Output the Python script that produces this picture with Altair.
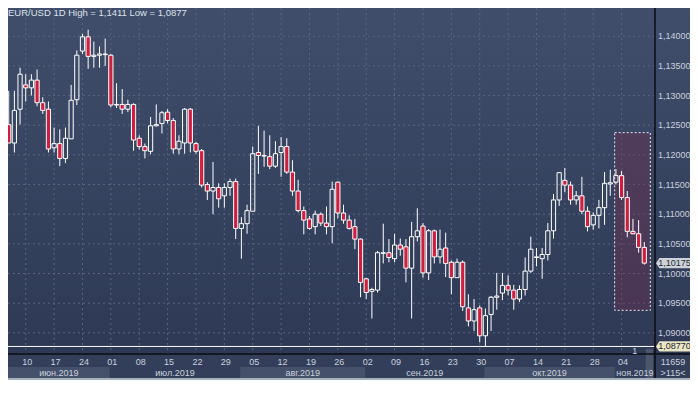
import altair as alt
import numpy as np
import pandas as pd

# ---------------- data ----------------
trade_days = pd.bdate_range("2019-06-04", "2019-11-08")

open_ = [1.1241, 1.1251, 1.1220, 1.1277, 1.1318, 1.1313, 1.1326, 1.1288, 1.1277, 1.1212,
         1.1219, 1.1194, 1.1227, 1.1293, 1.1375, 1.1399, 1.1366, 1.1368, 1.1369, 1.1368,
         1.1284, 1.1285, 1.1277, 1.1285, 1.1228, 1.1214, 1.1206, 1.1249, 1.1253, 1.1272,
         1.1258, 1.1210, 1.1220, 1.1277, 1.1219, 1.1207, 1.1150, 1.1139, 1.1145, 1.1131,
         1.1145, 1.1155, 1.1076, 1.1084, 1.1105, 1.1204, 1.1198, 1.1197, 1.1181, 1.1204,
         1.1214, 1.1171, 1.1139, 1.1106, 1.1092, 1.1079, 1.1100, 1.1085, 1.1079, 1.1154,
         1.1102, 1.1090, 1.1079, 1.1058, 1.0991, 1.0970, 1.0972, 1.1034, 1.1035, 1.1025,
         1.1048, 1.1045, 1.1009, 1.1062, 1.1080, 1.1001, 1.1072, 1.1028, 1.1043, 1.1019,
         1.0993, 1.1019, 1.0942, 1.0920, 1.0942, 1.0895, 1.0931, 1.0960, 1.0967, 1.0980,
         1.0972, 1.0957, 1.0973, 1.1004, 1.1027, 1.1025, 1.1032, 1.1072, 1.1124, 1.1157,
         1.1149, 1.1124, 1.1131, 1.1105, 1.1082, 1.1098, 1.1111, 1.1151, 1.1154, 1.1165,
         1.1128, 1.1071, 1.1067, 1.1044]
high = [1.1254, 1.1308, 1.1308, 1.1347, 1.1336, 1.1336, 1.1344, 1.1297, 1.1290, 1.1246,
        1.1243, 1.1246, 1.1318, 1.1376, 1.1404, 1.1411, 1.1391, 1.1383, 1.1396, 1.1370,
        1.1321, 1.1311, 1.1293, 1.1287, 1.1233, 1.1219, 1.1264, 1.1285, 1.1274, 1.1277,
        1.1262, 1.1233, 1.1279, 1.1279, 1.1222, 1.1210, 1.1154, 1.1188, 1.1152, 1.1152,
        1.1160, 1.1160, 1.1095, 1.1116, 1.1214, 1.1249, 1.1241, 1.1233, 1.1223, 1.1230,
        1.1228, 1.1191, 1.1158, 1.1113, 1.1097, 1.1106, 1.1103, 1.1113, 1.1155, 1.1155,
        1.1116, 1.1098, 1.1092, 1.1059, 1.0993, 1.0976, 1.1038, 1.1084, 1.1058, 1.1067,
        1.1059, 1.1058, 1.1087, 1.1110, 1.1085, 1.1075, 1.1074, 1.1074, 1.1069, 1.1022,
        1.1025, 1.1022, 1.0965, 1.0957, 1.0946, 1.0941, 1.0962, 1.1001, 1.1001, 1.0997,
        1.0981, 1.0980, 1.1027, 1.1062, 1.1043, 1.1043, 1.1085, 1.1134, 1.1171, 1.1178,
        1.1155, 1.1139, 1.1163, 1.1113, 1.1103, 1.1124, 1.1171, 1.1175, 1.1176, 1.1173,
        1.1139, 1.1092, 1.1090, 1.1053]
low = [1.1238, 1.1220, 1.1204, 1.1251, 1.1290, 1.1300, 1.1282, 1.1269, 1.1204, 1.1204,
       1.1181, 1.1186, 1.1227, 1.1284, 1.1370, 1.1345, 1.1347, 1.1347, 1.1350, 1.1280,
       1.1279, 1.1269, 1.1272, 1.1207, 1.1209, 1.1194, 1.1201, 1.1248, 1.1236, 1.1253,
       1.1202, 1.1201, 1.1202, 1.1204, 1.1202, 1.1145, 1.1124, 1.1100, 1.1111, 1.1111,
       1.1131, 1.1058, 1.1025, 1.1067, 1.1105, 1.1168, 1.1180, 1.1176, 1.1178, 1.1163,
       1.1168, 1.1131, 1.1103, 1.1066, 1.1074, 1.1066, 1.1080, 1.1066, 1.1051, 1.1093,
       1.1084, 1.1074, 1.1041, 1.0960, 1.0957, 1.0924, 1.0968, 1.1017, 1.1019, 1.1019,
       1.1030, 1.0985, 1.0924, 1.1054, 1.0993, 1.0989, 1.1017, 1.1017, 1.0994, 1.0965,
       1.0993, 1.0937, 1.0911, 1.0903, 1.0884, 1.0877, 1.0903, 1.0939, 1.0955, 1.0963,
       1.0939, 1.0952, 1.0963, 1.1001, 1.1012, 1.0991, 1.1022, 1.1059, 1.1114, 1.1137,
       1.1116, 1.1116, 1.1100, 1.1071, 1.1074, 1.1076, 1.1082, 1.1131, 1.1150, 1.1124,
       1.1061, 1.1066, 1.1035, 1.1015]
close = [1.1251, 1.1220, 1.1275, 1.1336, 1.1313, 1.1326, 1.1288, 1.1275, 1.1210, 1.1219,
         1.1194, 1.1228, 1.1292, 1.1368, 1.1399, 1.1366, 1.1368, 1.1370, 1.1370, 1.1284,
         1.1285, 1.1277, 1.1285, 1.1225, 1.1214, 1.1207, 1.1249, 1.1251, 1.1271, 1.1258,
         1.1210, 1.1223, 1.1277, 1.1220, 1.1206, 1.1149, 1.1139, 1.1145, 1.1126, 1.1145,
         1.1155, 1.1076, 1.1084, 1.1106, 1.1202, 1.1199, 1.1199, 1.1181, 1.1202, 1.1214,
         1.1171, 1.1139, 1.1106, 1.1090, 1.1076, 1.1100, 1.1085, 1.1079, 1.1142, 1.1102,
         1.1090, 1.1076, 1.1058, 1.0985, 1.0968, 1.0973, 1.1035, 1.1035, 1.1027, 1.1048,
         1.1041, 1.1009, 1.1062, 1.1072, 1.1001, 1.1072, 1.1028, 1.1041, 1.1017, 1.0993,
         1.1019, 1.0944, 1.0920, 1.0939, 1.0895, 1.0929, 1.0960, 1.0962, 1.0980, 1.0972,
         1.0957, 1.0973, 1.1004, 1.1041, 1.1028, 1.1032, 1.1072, 1.1124, 1.1170, 1.1149,
         1.1124, 1.1131, 1.1105, 1.1079, 1.1098, 1.1111, 1.1152, 1.1153, 1.1165, 1.1128,
         1.1071, 1.1067, 1.1044, 1.10175]

month_names = ["июн.2019", "июл.2019", "авг.2019", "сен.2019", "окт.2019", "ноя.2019"]
month_shaded = [True, False, True, False, True, False]

y_ticks = [1.090, 1.095, 1.100, 1.105, 1.110, 1.115, 1.120, 1.125, 1.130, 1.135, 1.140]

title_text = "EUR/USD 1D High = 1,1411 Low = 1,0877"
low_value = 1.0877
last_value = 1.10175
bars_count = "11659"
zoom_text = ">115<"
low_marker = "1"

box_idx = [107.78, 114.06]      # highlighted area (bar index range)
box_price = [1.09379, 1.12375]  # highlighted area (price range)

# ---------------- layout / style ----------------
W, H = 647, 346
RIGHT, BOTTOM = 35, 26
X_DOMAIN = [0.876, 114.885]
Y_DOMAIN = [1.08643, 1.14476]
FONT = "Liberation Sans"
FS = 9
TXT = "#c9d0dc"
GRID = "#56647f"
RED = "#cf1f3e"

xs = alt.Scale(domain=X_DOMAIN, nice=False, zero=False)
ys = alt.Scale(domain=Y_DOMAIN, nice=False, zero=False)

n = len(close)
df = pd.DataFrame({
    "idx": np.arange(n),
    "date": trade_days[:n].strftime("%Y-%m-%d"),
    "open": open_, "high": high, "low": low, "close": close,
})
df["top"] = df[["open", "close"]].max(axis=1)
df["bot"] = df[["open", "close"]].min(axis=1)
df["dir"] = np.where(df["close"] >= df["open"], "up", "down")
df["x0"] = df["idx"] - 0.37
df["x1"] = df["idx"] + 0.37

mondays = pd.DataFrame({
    "idx": [i for i, d in enumerate(trade_days) if d.weekday() == 0],
    "lab": [d.strftime("%d") for d in trade_days if d.weekday() == 0],
})

month_start = []
for m in sorted(set(trade_days.month)):
    first = [i for i, d in enumerate(trade_days) if d.month == m][0]
    month_start.append(first - 0.2)
month_start[0] = X_DOMAIN[0]
month_end = month_start[1:] + [X_DOMAIN[1]]
months = pd.DataFrame({"name": month_names, "start": month_start, "end": month_end,
                       "shaded": month_shaded})
months["mid"] = (months["start"] + months["end"]) / 2

yt = pd.DataFrame({"value": y_ticks,
                   "label": [f"{v:.5f}".replace(".", ",") for v in y_ticks]})

one = pd.DataFrame({"a": [0]})

# ---------------- layers ----------------
bg = alt.Chart(one).mark_rect(
    fill=alt.Gradient(gradient="linear",
                      stops=[alt.GradientStop(color="#404e6b", offset=0),
                             alt.GradientStop(color="#2d3955", offset=1)],
                      x1=0, x2=0, y1=0, y2=1)
).encode(x=alt.value(0), x2=alt.value(W + RIGHT), y=alt.value(0), y2=alt.value(H))

bands = alt.Chart(months).transform_filter("datum.shaded").mark_rect(color="#45516b").encode(
    x=alt.X("start:Q", scale=xs, axis=None), x2="end:Q",
    y=alt.value(H + 13), y2=alt.value(H + 24))

vgrid = alt.Chart(mondays).mark_rule(color=GRID, strokeDash=[2, 3], strokeWidth=1).encode(
    x=alt.X("idx:Q", scale=xs, axis=None), y=alt.value(0), y2=alt.value(H))

hgrid = alt.Chart(yt).mark_rule(color=GRID, strokeDash=[2, 3], strokeWidth=1).encode(
    y=alt.Y("value:Q", scale=ys, axis=None), x=alt.value(0), x2=alt.value(W))

box = alt.Chart(pd.DataFrame({"x0": [box_idx[0]], "x1": [box_idx[1]],
                              "y0": [box_price[0]], "y1": [box_price[1]]})).mark_rect(
    fill="#7a2a4c", fillOpacity=0.35, stroke="#e6e6ee", strokeDash=[2, 2], strokeWidth=1
).encode(x=alt.X("x0:Q", scale=xs, axis=None), x2="x1:Q",
         y=alt.Y("y0:Q", scale=ys, axis=None), y2="y1:Q")

low_line = alt.Chart(pd.DataFrame({"v": [low_value]})).mark_rule(color="#ffffff", strokeWidth=1).encode(
    y=alt.Y("v:Q", scale=ys, axis=None), x=alt.value(0), x2=alt.value(W))

base = alt.Chart(df)
wick_hi = base.mark_rule(color="#ffffff", strokeWidth=1, clip=True).encode(
    x=alt.X("idx:Q", scale=xs, axis=None),
    y=alt.Y("high:Q", scale=ys, axis=None), y2="top:Q")
wick_lo = base.mark_rule(color="#ffffff", strokeWidth=1, clip=True).encode(
    x=alt.X("idx:Q", scale=xs, axis=None),
    y=alt.Y("bot:Q", scale=ys, axis=None), y2="low:Q")
bodies = base.mark_rect(stroke="#ffffff", strokeWidth=1, clip=True).encode(
    x=alt.X("x0:Q", scale=xs, axis=None), x2="x1:Q",
    y=alt.Y("bot:Q", scale=ys, axis=None), y2="top:Q",
    fill=alt.condition("datum.dir == 'down'", alt.value(RED), alt.value("rgba(0,0,0,0)")),
    tooltip=["date:N", "open:Q", "high:Q", "low:Q", "close:Q"])

ylabels = alt.Chart(yt).mark_text(align="left", baseline="middle", font=FONT, fontSize=FS,
                                  color=TXT).encode(
    y=alt.Y("value:Q", scale=ys, axis=None), x=alt.value(W + 3), text="label:N")

xlabels = alt.Chart(mondays).mark_text(align="center", baseline="middle", font=FONT,
                                       fontSize=FS, color=TXT, dx=1.5).encode(
    x=alt.X("idx:Q", scale=xs, axis=None), y=alt.value(H + 8), text="lab:N")

mlabels = alt.Chart(months).mark_text(align="center", baseline="middle", font=FONT,
                                      fontSize=FS, color=TXT).encode(
    x=alt.X("mid:Q", scale=xs, axis=None), y=alt.value(H + 18.5), text="name:N")

scroll = alt.Chart(one).mark_rect(color="#4b566c").encode(
    x=alt.value(W - 9.3), x2=alt.value(W - 2), y=alt.value(H - 5), y2=alt.value(H + 24))

vline = alt.Chart(one).mark_rule(color="#0a0d13", strokeWidth=1.5).encode(
    x=alt.value(W), y=alt.value(0), y2=alt.value(H + BOTTOM))
hline = alt.Chart(one).mark_rule(color="#0a0d13", strokeWidth=1.5).encode(
    y=alt.value(H), x=alt.value(0), x2=alt.value(W + RIGHT))
bframe = alt.Chart(one).mark_rule(color="#a7b0bf", strokeWidth=2).encode(
    y=alt.value(H + BOTTOM - 1), x=alt.value(0), x2=alt.value(W + RIGHT))

TAG = "M-1,0L-0.8,-0.3L1,-0.3L1,0.3L-0.8,0.3Z"
tag_last = alt.Chart(pd.DataFrame({"v": [last_value]})).mark_point(
    shape=TAG, filled=True, opacity=1, size=34 * 34, strokeWidth=0, color="#cdd2da"
).encode(y=alt.Y("v:Q", scale=ys, axis=None), x=alt.value(W + 18))
tag_low = alt.Chart(pd.DataFrame({"v": [low_value]})).mark_point(
    shape=TAG, filled=True, opacity=1, size=34 * 34, strokeWidth=0, color="#ebe6c6"
).encode(y=alt.Y("v:Q", scale=ys, axis=None), x=alt.value(W + 18))
tags = pd.DataFrame({"v": [last_value, low_value],
                     "label": [f"{last_value:.5f}".replace(".", ","),
                               f"{low_value:.5f}".replace(".", ",")]})
tag_text = alt.Chart(tags).mark_text(align="center", baseline="middle", font=FONT,
                                     fontSize=FS, color="#262a31").encode(
    y=alt.Y("v:Q", scale=ys, axis=None), x=alt.value(W + 19.5), text="label:N")

misc = pd.DataFrame({"t": [low_marker, bars_count, zoom_text],
                     "x": [W - 20.3, W + 18, W + 18],
                     "y": [H - 3.5, H + 8, H + 18.5]})
misc_text = alt.Chart(misc).mark_text(align="center", baseline="middle", font=FONT,
                                      fontSize=FS, color=TXT).encode(
    x=alt.X("x:Q", scale=None), y=alt.Y("y:Q", scale=None), text="t:N")

title = alt.Chart(one).mark_text(align="left", baseline="top", font=FONT, fontSize=9.5,
                                 color="#dde2ea", text=title_text).encode(
    x=alt.value(0), y=alt.value(0))

chart = alt.layer(
    bg, bands, vgrid, hgrid, box, low_line, wick_hi, wick_lo, bodies,
    scroll, vline, hline, bframe, tag_last, tag_low, tag_text,
    ylabels, xlabels, mlabels, misc_text, title
).properties(
    width=W, height=H,
    autosize=alt.AutoSizeParams(type="none"),
    padding={"left": 0, "top": 0, "right": RIGHT, "bottom": BOTTOM},
    background="#333f5a",
).configure_view(strokeWidth=0)

chart.save("out.html", embed_options={"renderer": "svg", "actions": False})
